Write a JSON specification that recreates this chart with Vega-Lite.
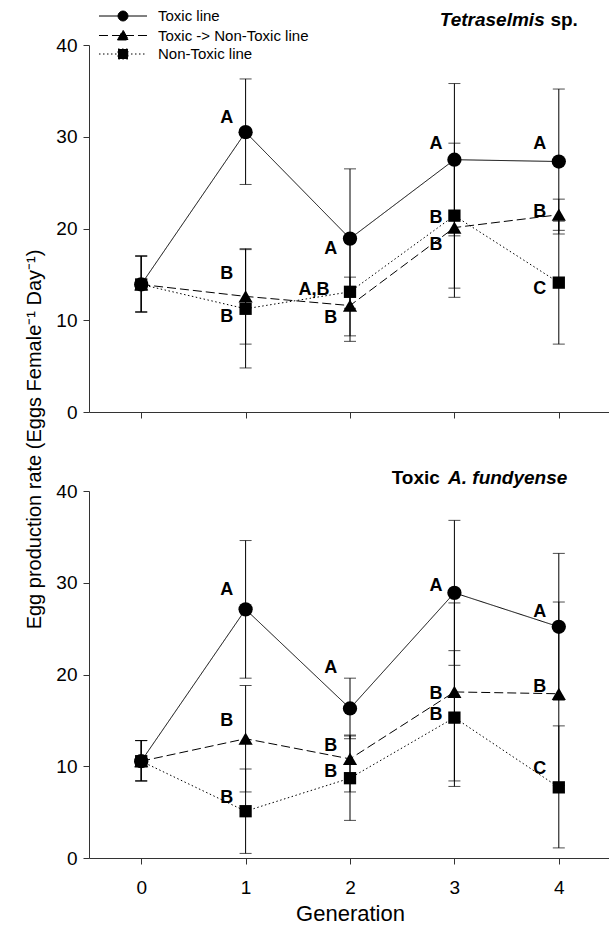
{
  "$schema": "https://vega.github.io/schema/vega-lite/v6.json",
  "padding": {"left": 24, "top": 8, "right": 0, "bottom": 0},
  "background": "white",
  "spacing": 79,
  "bounds": "flush",
  "resolve": {"legend": {"shape": "independent", "strokeDash": "independent"}},
  "config": {
    "view": {"stroke": null},
    "font": "Liberation Sans",
    "axis": {"grid": false, "domainColor": "#333333", "tickColor": "#333333", "tickSize": 6, "labelFont": "Liberation Sans", "labelFontSize": 19, "labelColor": "black", "titleFont": "Liberation Sans", "titleFontWeight": "normal", "titleColor": "black"}
  },
  "datasets": {
    "means": [
      {"panel": "Tetraselmis", "series": "Toxic line", "gen": 0, "rate": 13.9, "lo": 10.9, "hi": 17.0},
      {"panel": "Tetraselmis", "series": "Toxic line", "gen": 1, "rate": 30.5, "lo": 24.8, "hi": 36.3},
      {"panel": "Tetraselmis", "series": "Toxic line", "gen": 2, "rate": 18.9, "lo": 11.3, "hi": 26.5},
      {"panel": "Tetraselmis", "series": "Toxic line", "gen": 3, "rate": 27.5, "lo": 19.2, "hi": 35.8},
      {"panel": "Tetraselmis", "series": "Toxic line", "gen": 4, "rate": 27.3, "lo": 19.4, "hi": 35.2},
      {"panel": "Tetraselmis", "series": "Toxic -> Non-Toxic line", "gen": 0, "rate": 13.9, "lo": 10.9, "hi": 17.0},
      {"panel": "Tetraselmis", "series": "Toxic -> Non-Toxic line", "gen": 1, "rate": 12.6, "lo": 7.4, "hi": 17.8},
      {"panel": "Tetraselmis", "series": "Toxic -> Non-Toxic line", "gen": 2, "rate": 11.6, "lo": 8.3, "hi": 14.7},
      {"panel": "Tetraselmis", "series": "Toxic -> Non-Toxic line", "gen": 3, "rate": 20.1, "lo": 12.5, "hi": 27.7},
      {"panel": "Tetraselmis", "series": "Toxic -> Non-Toxic line", "gen": 4, "rate": 21.5, "lo": 19.8, "hi": 23.2},
      {"panel": "Tetraselmis", "series": "Non-Toxic line", "gen": 0, "rate": 13.9, "lo": 10.9, "hi": 17.0},
      {"panel": "Tetraselmis", "series": "Non-Toxic line", "gen": 1, "rate": 11.25, "lo": 4.8, "hi": 17.7},
      {"panel": "Tetraselmis", "series": "Non-Toxic line", "gen": 2, "rate": 13.1, "lo": 7.7, "hi": 18.5},
      {"panel": "Tetraselmis", "series": "Non-Toxic line", "gen": 3, "rate": 21.4, "lo": 13.5, "hi": 29.3},
      {"panel": "Tetraselmis", "series": "Non-Toxic line", "gen": 4, "rate": 14.1, "lo": 7.4, "hi": 20.8},
      {"panel": "fundyense", "series": "Toxic line", "gen": 0, "rate": 10.55, "lo": 8.4, "hi": 12.8},
      {"panel": "fundyense", "series": "Toxic line", "gen": 1, "rate": 27.1, "lo": 19.6, "hi": 34.6},
      {"panel": "fundyense", "series": "Toxic line", "gen": 2, "rate": 16.3, "lo": 13.0, "hi": 19.6},
      {"panel": "fundyense", "series": "Toxic line", "gen": 3, "rate": 28.9, "lo": 21.0, "hi": 36.8},
      {"panel": "fundyense", "series": "Toxic line", "gen": 4, "rate": 25.2, "lo": 17.2, "hi": 33.2},
      {"panel": "fundyense", "series": "Toxic -> Non-Toxic line", "gen": 0, "rate": 10.55, "lo": 8.4, "hi": 12.8},
      {"panel": "fundyense", "series": "Toxic -> Non-Toxic line", "gen": 1, "rate": 13.0, "lo": 7.2, "hi": 18.8},
      {"panel": "fundyense", "series": "Toxic -> Non-Toxic line", "gen": 2, "rate": 10.8, "lo": 7.2, "hi": 13.4},
      {"panel": "fundyense", "series": "Toxic -> Non-Toxic line", "gen": 3, "rate": 18.1, "lo": 8.4, "hi": 27.8},
      {"panel": "fundyense", "series": "Toxic -> Non-Toxic line", "gen": 4, "rate": 17.9, "lo": 7.9, "hi": 27.9},
      {"panel": "fundyense", "series": "Non-Toxic line", "gen": 0, "rate": 10.55, "lo": 8.4, "hi": 12.8},
      {"panel": "fundyense", "series": "Non-Toxic line", "gen": 1, "rate": 5.1, "lo": 0.5, "hi": 9.7},
      {"panel": "fundyense", "series": "Non-Toxic line", "gen": 2, "rate": 8.7, "lo": 4.1, "hi": 13.3},
      {"panel": "fundyense", "series": "Non-Toxic line", "gen": 3, "rate": 15.3, "lo": 7.8, "hi": 22.6},
      {"panel": "fundyense", "series": "Non-Toxic line", "gen": 4, "rate": 7.7, "lo": 1.1, "hi": 14.4}
    ],
    "letters": [
      {"panel": "Tetraselmis", "gen": 0.82, "rate": 32.0, "label": "A"},
      {"panel": "Tetraselmis", "gen": 0.82, "rate": 15.0, "label": "B"},
      {"panel": "Tetraselmis", "gen": 0.82, "rate": 10.3, "label": "B"},
      {"panel": "Tetraselmis", "gen": 1.815, "rate": 17.8, "label": "A"},
      {"panel": "Tetraselmis", "gen": 1.655, "rate": 13.3, "label": "A,B"},
      {"panel": "Tetraselmis", "gen": 1.815, "rate": 10.2, "label": "B"},
      {"panel": "Tetraselmis", "gen": 2.823, "rate": 29.2, "label": "A"},
      {"panel": "Tetraselmis", "gen": 2.823, "rate": 21.1, "label": "B"},
      {"panel": "Tetraselmis", "gen": 2.823, "rate": 18.2, "label": "B"},
      {"panel": "Tetraselmis", "gen": 3.818, "rate": 29.2, "label": "A"},
      {"panel": "Tetraselmis", "gen": 3.818, "rate": 21.8, "label": "B"},
      {"panel": "Tetraselmis", "gen": 3.818, "rate": 13.4, "label": "C"},
      {"panel": "fundyense", "gen": 0.82, "rate": 29.2, "label": "A"},
      {"panel": "fundyense", "gen": 0.82, "rate": 14.9, "label": "B"},
      {"panel": "fundyense", "gen": 0.82, "rate": 6.5, "label": "B"},
      {"panel": "fundyense", "gen": 1.815, "rate": 20.7, "label": "A"},
      {"panel": "fundyense", "gen": 1.815, "rate": 12.2, "label": "B"},
      {"panel": "fundyense", "gen": 1.815, "rate": 9.4, "label": "B"},
      {"panel": "fundyense", "gen": 2.823, "rate": 29.6, "label": "A"},
      {"panel": "fundyense", "gen": 2.823, "rate": 17.9, "label": "B"},
      {"panel": "fundyense", "gen": 2.823, "rate": 15.6, "label": "B"},
      {"panel": "fundyense", "gen": 3.818, "rate": 26.8, "label": "A"},
      {"panel": "fundyense", "gen": 3.818, "rate": 18.6, "label": "B"},
      {"panel": "fundyense", "gen": 3.818, "rate": 9.7, "label": "C"}
    ],
    "titles": [
      {"panel": "Tetraselmis", "part": "species", "text": "Tetraselmis", "gen": 2.86, "rate": 42.7},
      {"panel": "Tetraselmis", "part": "qualifier", "text": "sp.", "gen": 3.92, "rate": 42.7},
      {"panel": "fundyense", "part": "qualifier", "text": "Toxic", "gen": 2.399, "rate": 41.4},
      {"panel": "fundyense", "part": "species", "text": "A. fundyense", "gen": 2.939, "rate": 41.4}
    ]
  },
  "vconcat": [
    {
      "width": 522,
      "height": 367,
      "layer": [
        {
          "data": {"name": "means"},
          "transform": [{"filter": "datum.panel === 'Tetraselmis'"}],
          "mark": {"type": "line", "color": "black", "strokeWidth": 1},
          "encoding": {
            "x": {"field": "gen", "type": "quantitative", "scale": {"domain": [-0.5, 4.5], "nice": false}, "axis": {"values": [0, 1, 2, 3, 4], "labels": false, "title": null}},
            "y": {"field": "rate", "type": "quantitative", "scale": {"domain": [0, 40], "nice": false}, "title": "Egg production rate (Eggs Female⁻¹ Day⁻¹)", "axis": {"values": [0, 10, 20, 30, 40], "titleFontSize": 20, "titleY": 394, "titlePadding": 11, "labelPadding": 6}},
            "strokeDash": {"field": "series", "type": "nominal", "scale": {"domain": ["Toxic line", "Toxic -> Non-Toxic line", "Non-Toxic line"], "range": [[1, 0], [9, 4], [1.5, 2.5]]},
              "legend": {"title": null, "orient": "none", "legendX": 26.5, "legendY": -36.5, "padding": 0, "offset": 0, "symbolSize": 196, "labelOffset": 27.5, "labelFont": "Liberation Sans", "labelFontSize": 15, "labelColor": "black", "labelLimit": 400, "rowPadding": 2.5, "symbolOpacity": 1, "symbolFillColor": "black", "symbolStrokeColor": "black", "symbolStrokeWidth": 1,
                "encode": {"symbols": {"update": {"stroke": {"value": "black"}, "strokeWidth": {"value": 1}, "fill": {"value": "black"}, "opacity": {"value": 1}, "strokeDash": {"signal": "datum.value === 'Toxic -> Non-Toxic line' ? [9,4] : datum.value === 'Non-Toxic line' ? [1.5,2.5] : [1,0]"}}}}}}
          }
        },
        {
          "data": {"name": "means"},
          "transform": [{"filter": "datum.panel === 'Tetraselmis'"}],
          "mark": {"type": "errorbar", "ticks": {"size": 12, "color": "black", "thickness": 1}, "rule": {"color": "black", "strokeWidth": 1}},
          "encoding": {
            "x": {"field": "gen", "type": "quantitative"},
            "y": {"field": "lo", "type": "quantitative", "title": "Egg production rate (Eggs Female⁻¹ Day⁻¹)"},
            "y2": {"field": "hi"}
          }
        },
        {
          "data": {"name": "means"},
          "transform": [{"filter": "datum.panel === 'Tetraselmis'"}],
          "mark": {"type": "point", "filled": true, "color": "black", "opacity": 0, "size": 196},
          "encoding": {
            "x": {"field": "gen", "type": "quantitative"},
            "y": {"field": "rate", "type": "quantitative", "title": "Egg production rate (Eggs Female⁻¹ Day⁻¹)"},
            "shape": {"field": "series", "type": "nominal", "scale": {"domain": ["Toxic line", "Toxic -> Non-Toxic line", "Non-Toxic line"], "range": ["M-3.43,0H3.43M-0.71,0A0.71,0.71,0,1,1,0.71,0A0.71,0.71,0,1,1,-0.71,0Z", "M-3.43,0H3.43M-0.79,0.64L0.79,0.64L0,-0.8Z", "M-3.43,0H3.43M-0.71,-0.71H0.71V0.71H-0.71Z"]},
              "legend": {"title": null, "orient": "none", "legendX": 26.5, "legendY": -36.5, "padding": 0, "offset": 0, "symbolSize": 196, "labelOffset": 27.5, "labelFont": "Liberation Sans", "labelFontSize": 15, "labelColor": "black", "labelLimit": 400, "rowPadding": 2.5, "symbolOpacity": 1, "symbolFillColor": "black", "symbolStrokeColor": "black", "symbolStrokeWidth": 1,
                "encode": {"symbols": {"update": {"stroke": {"value": "black"}, "strokeWidth": {"value": 1}, "fill": {"value": "black"}, "opacity": {"value": 1}, "strokeDash": {"signal": "datum.value === 'Toxic -> Non-Toxic line' ? [9,4] : datum.value === 'Non-Toxic line' ? [1.5,2.5] : [1,0]"}}}}}}
          }
        },
        {
          "data": {"name": "means"},
          "transform": [{"filter": "datum.panel === 'Tetraselmis' && datum.series === 'Toxic line'"}],
          "mark": {"type": "point", "shape": "circle", "filled": true, "color": "black", "opacity": 1, "size": 204},
          "encoding": {"x": {"field": "gen", "type": "quantitative"}, "y": {"field": "rate", "type": "quantitative"}}
        },
        {
          "data": {"name": "means"},
          "transform": [{"filter": "datum.panel === 'Tetraselmis' && datum.series === 'Toxic -> Non-Toxic line'"}],
          "mark": {"type": "point", "shape": "triangle-up", "filled": true, "color": "black", "opacity": 1, "size": 200},
          "encoding": {"x": {"field": "gen", "type": "quantitative"}, "y": {"field": "rate", "type": "quantitative"}}
        },
        {
          "data": {"name": "means"},
          "transform": [{"filter": "datum.panel === 'Tetraselmis' && datum.series === 'Non-Toxic line'"}],
          "mark": {"type": "point", "shape": "square", "filled": true, "color": "black", "opacity": 1, "size": 151},
          "encoding": {"x": {"field": "gen", "type": "quantitative"}, "y": {"field": "rate", "type": "quantitative"}}
        },
        {
          "data": {"name": "letters"},
          "transform": [{"filter": "datum.panel === 'Tetraselmis'"}],
          "mark": {"type": "text", "font": "Liberation Sans", "fontWeight": "bold", "fontSize": 18, "color": "black", "align": "center", "baseline": "middle"},
          "encoding": {"x": {"field": "gen", "type": "quantitative"}, "y": {"field": "rate", "type": "quantitative"}, "text": {"field": "label"}}
        },
        {
          "data": {"name": "titles"},
          "transform": [{"filter": "datum.panel === 'Tetraselmis' && datum.part === 'species'"}],
          "mark": {"type": "text", "font": "Liberation Sans", "fontWeight": "bold", "fontStyle": "italic", "fontSize": 19, "color": "black", "align": "left", "baseline": "middle"},
          "encoding": {"x": {"field": "gen", "type": "quantitative"}, "y": {"field": "rate", "type": "quantitative"}, "text": {"field": "text"}}
        },
        {
          "data": {"name": "titles"},
          "transform": [{"filter": "datum.panel === 'Tetraselmis' && datum.part === 'qualifier'"}],
          "mark": {"type": "text", "font": "Liberation Sans", "fontWeight": "bold", "fontSize": 19, "color": "black", "align": "left", "baseline": "middle"},
          "encoding": {"x": {"field": "gen", "type": "quantitative"}, "y": {"field": "rate", "type": "quantitative"}, "text": {"field": "text"}}
        }
      ]
    },
    {
      "width": 522,
      "height": 367,
      "layer": [
        {
          "data": {"name": "means"},
          "transform": [{"filter": "datum.panel === 'fundyense'"}],
          "mark": {"type": "line", "color": "black", "strokeWidth": 1},
          "encoding": {
            "x": {"field": "gen", "type": "quantitative", "scale": {"domain": [-0.5, 4.5], "nice": false}, "title": "Generation", "axis": {"values": [0, 1, 2, 3, 4], "format": "d", "titleFontSize": 22, "labelPadding": 14, "titlePadding": 6}},
            "y": {"field": "rate", "type": "quantitative", "scale": {"domain": [0, 40], "nice": false}, "title": null, "axis": {"values": [0, 10, 20, 30, 40], "labelPadding": 6}},
            "strokeDash": {"field": "series", "type": "nominal", "scale": {"domain": ["Toxic line", "Toxic -> Non-Toxic line", "Non-Toxic line"], "range": [[1, 0], [9, 4], [1.5, 2.5]]}, "legend": null}
          }
        },
        {
          "data": {"name": "means"},
          "transform": [{"filter": "datum.panel === 'fundyense'"}],
          "mark": {"type": "errorbar", "ticks": {"size": 12, "color": "black", "thickness": 1}, "rule": {"color": "black", "strokeWidth": 1}},
          "encoding": {
            "x": {"field": "gen", "type": "quantitative", "title": "Generation"},
            "y": {"field": "lo", "type": "quantitative", "title": null},
            "y2": {"field": "hi"}
          }
        },
        {
          "data": {"name": "means"},
          "transform": [{"filter": "datum.panel === 'fundyense' && datum.series === 'Toxic line'"}],
          "mark": {"type": "point", "shape": "circle", "filled": true, "color": "black", "opacity": 1, "size": 204},
          "encoding": {"x": {"field": "gen", "type": "quantitative", "title": "Generation"}, "y": {"field": "rate", "type": "quantitative", "title": null}}
        },
        {
          "data": {"name": "means"},
          "transform": [{"filter": "datum.panel === 'fundyense' && datum.series === 'Toxic -> Non-Toxic line'"}],
          "mark": {"type": "point", "shape": "triangle-up", "filled": true, "color": "black", "opacity": 1, "size": 200},
          "encoding": {"x": {"field": "gen", "type": "quantitative", "title": "Generation"}, "y": {"field": "rate", "type": "quantitative", "title": null}}
        },
        {
          "data": {"name": "means"},
          "transform": [{"filter": "datum.panel === 'fundyense' && datum.series === 'Non-Toxic line'"}],
          "mark": {"type": "point", "shape": "square", "filled": true, "color": "black", "opacity": 1, "size": 151},
          "encoding": {"x": {"field": "gen", "type": "quantitative", "title": "Generation"}, "y": {"field": "rate", "type": "quantitative", "title": null}}
        },
        {
          "data": {"name": "letters"},
          "transform": [{"filter": "datum.panel === 'fundyense'"}],
          "mark": {"type": "text", "font": "Liberation Sans", "fontWeight": "bold", "fontSize": 18, "color": "black", "align": "center", "baseline": "middle"},
          "encoding": {"x": {"field": "gen", "type": "quantitative"}, "y": {"field": "rate", "type": "quantitative"}, "text": {"field": "label"}}
        },
        {
          "data": {"name": "titles"},
          "transform": [{"filter": "datum.panel === 'fundyense' && datum.part === 'species'"}],
          "mark": {"type": "text", "font": "Liberation Sans", "fontWeight": "bold", "fontStyle": "italic", "fontSize": 19, "color": "black", "align": "left", "baseline": "middle"},
          "encoding": {"x": {"field": "gen", "type": "quantitative"}, "y": {"field": "rate", "type": "quantitative"}, "text": {"field": "text"}}
        },
        {
          "data": {"name": "titles"},
          "transform": [{"filter": "datum.panel === 'fundyense' && datum.part === 'qualifier'"}],
          "mark": {"type": "text", "font": "Liberation Sans", "fontWeight": "bold", "fontSize": 19, "color": "black", "align": "left", "baseline": "middle"},
          "encoding": {"x": {"field": "gen", "type": "quantitative"}, "y": {"field": "rate", "type": "quantitative"}, "text": {"field": "text"}}
        }
      ]
    }
  ]
}
